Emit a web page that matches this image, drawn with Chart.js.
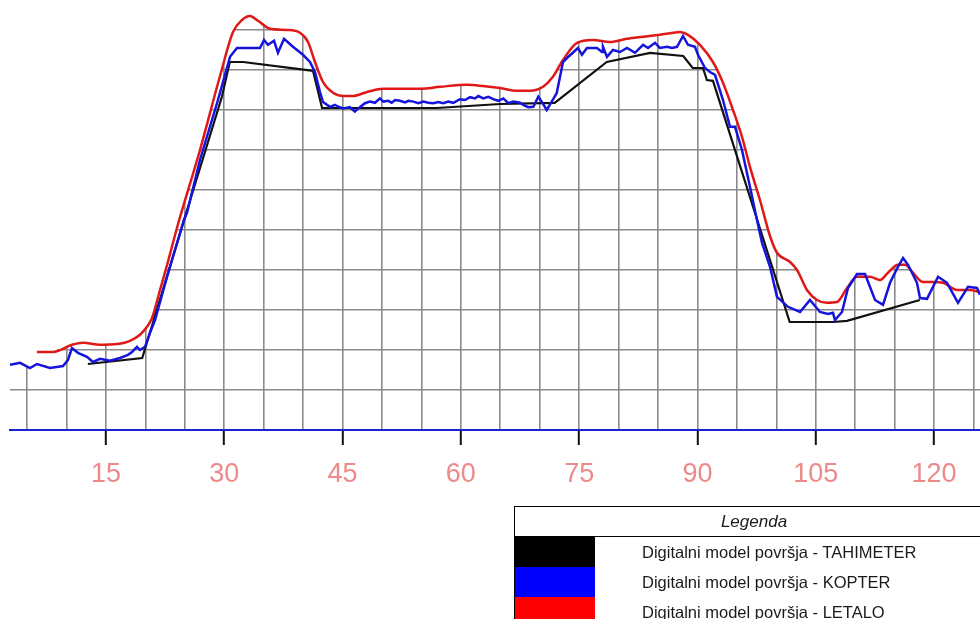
<!DOCTYPE html>
<html>
<head>
<meta charset="utf-8">
<script src="https://cdn.jsdelivr.net/npm/chart.js@4.4.1/dist/chart.umd.min.js"></script>
<style>
  html, body { margin: 0; padding: 0; background: #fff; }
  #wrap { position: relative; width: 980px; height: 619px; overflow: hidden; }
  #legend {
    position: absolute; left: 514px; top: 506px; width: 480px;
    border-collapse: collapse; border: 1px solid #000;
    font-family: "Liberation Sans", Arial, sans-serif; font-size: 16.5px; color: #1a1a1a;
  }
  #legend th { font-weight: normal; font-style: italic; font-size: 17px; height: 29px; line-height: 20px; border-bottom: 1px solid #000; padding: 0; }
  #legend td { height: 30px; line-height: 20px; padding: 0; vertical-align: middle; }
  #legend td.sw { width: 80px; }
  #legend td.txt { padding-left: 47px; }
</style>
</head>
<body>
<div id="wrap">
  <canvas id="chart" width="980" height="619"></canvas>
  <table id="legend"><tr><th colspan="2">Legenda</th></tr></table>
</div>
<script>
// razdalja (m) in višina profila
const tahimeterX = [12.7, 19.6, 24.9, 29.7, 30.7, 32.4, 41.25, 42.4, 56.97, 64.96, 71.9, 78.5, 84.0, 88.2, 89.4, 90.7, 91.2, 91.97, 101.7, 107.2, 108.97, 118.2];
const tahimeterY = [1.65, 1.8, 5.25, 8.33, 9.2, 9.2, 8.98, 8.05, 8.05, 8.15, 8.18, 9.2, 9.43, 9.35, 9.05, 9.05, 8.75, 8.73, 2.7, 2.7, 2.73, 3.25];

const kopterX = [2.83, 4.10, 5.36, 6.25, 7.90, 9.55, 10.18, 10.69, 11.45, 12.59, 13.35, 14.24, 15.51, 16.78, 17.79, 18.30, 18.93, 19.31, 19.95, 20.58,
  21.22, 22.74, 24.89, 25.27, 26.92, 29.20, 30.73, 31.61, 34.53, 35.04, 35.54, 36.31, 36.81, 37.58, 38.71, 39.98, 40.87, 41.50, 42.14, 42.52,
  43.40, 44.04, 44.46, 45.09, 45.93, 46.56, 46.99, 47.84, 48.47, 49.11, 49.74, 50.16, 50.80, 51.23, 51.65, 52.28, 52.92, 53.34, 53.97, 54.61,
  55.24, 55.87, 56.51, 57.14, 57.77, 58.41, 59.04, 59.89, 60.53, 61.16, 61.79, 62.21, 62.85, 63.48, 64.12, 64.75, 65.38, 66.02, 66.65, 67.50,
  67.92, 68.55, 69.19, 69.82, 70.25, 70.89, 71.52, 72.15, 72.95, 73.46, 74.85, 75.36, 75.99, 77.26, 77.90, 78.02, 78.53, 79.29, 80.18,
  81.07, 82.08, 83.10, 83.73, 84.62, 85.25, 86.14, 86.77, 87.41, 88.17, 88.80, 89.69, 90.07, 90.96, 91.59, 92.23, 93.24, 94.13, 94.76, 95.65,
  96.66, 97.55, 98.19, 99.20, 100.09, 101.48, 103.01, 104.27, 105.54, 106.56, 107.19, 107.44, 108.33, 109.09, 110.23, 111.25, 112.52, 113.53, 114.42, 115.43,
  116.07, 116.70, 117.84, 118.22, 119.11, 120.51, 121.65, 123.04, 124.31, 125.45, 125.83, 126.5];
const kopterY = [1.63, 1.68, 1.55, 1.65, 1.55, 1.60, 1.75, 2.05, 1.93, 1.83, 1.70, 1.78, 1.73, 1.80, 1.88, 1.95, 2.08, 2.00, 2.08, 2.43,
  2.75, 3.83, 5.25, 5.43, 6.75, 8.25, 9.33, 9.55, 9.55, 9.75, 9.63, 9.73, 9.43, 9.78, 9.58, 9.38, 9.20, 8.95, 8.45, 8.20,
  8.08, 8.13, 8.08, 8.04, 8.07, 7.96, 8.04, 8.17, 8.21, 8.18, 8.29, 8.21, 8.23, 8.18, 8.25, 8.23, 8.19, 8.23, 8.21, 8.17,
  8.21, 8.18, 8.17, 8.20, 8.17, 8.21, 8.18, 8.27, 8.25, 8.32, 8.29, 8.35, 8.29, 8.33, 8.27, 8.23, 8.29, 8.17, 8.21, 8.18,
  8.13, 8.07, 8.08, 8.33, 8.21, 8.00, 8.21, 8.42, 9.20, 9.30, 9.55, 9.38, 9.55, 9.55, 9.45, 9.58, 9.33, 9.50, 9.45,
  9.55, 9.43, 9.63, 9.55, 9.68, 9.55, 9.58, 9.55, 9.58, 9.85, 9.63, 9.58, 9.38, 9.05, 8.95, 8.88, 8.25, 7.58, 7.58, 7.00,
  6.08, 5.25, 4.68, 4.08, 3.33, 3.08, 2.95, 3.25, 2.95, 2.90, 2.93, 2.75, 2.95, 3.55, 3.90, 3.90, 3.25, 3.13, 3.68, 4.08,
  4.30, 4.13, 3.68, 3.30, 3.28, 3.83, 3.68, 3.18, 3.58, 3.55, 3.38, 3.13];

const letaloX = [6.25, 8.28, 10.69, 12.09, 14.24, 16.40, 18.05, 19.31, 20.20, 20.84, 21.85, 22.74, 24.0, 26.92, 29.46, 31.11, 32.25, 33.26, 34.28, 35.80,
  37.95, 39.60, 40.62, 41.50, 42.52, 43.79, 45.06, 46.32, 48.10, 50.13, 52.28, 54.82, 57.36, 60.78, 62.81, 64.96, 67.12, 68.77, 70.42, 71.68,
  72.95, 74.73, 76.76, 78.91, 81.07, 83.10, 85.25, 86.90, 87.79, 88.80, 90.32, 91.97, 93.24, 94.51, 95.65, 96.66, 97.93, 99.20, 100.09, 101.74,
  102.63, 103.89, 105.16, 106.43, 107.70, 108.97, 110.23, 111.88, 113.15, 114.16, 115.43, 116.32, 117.34, 118.60, 119.87, 121.14, 122.92, 124.56, 125.83];
const letaloY = [1.95, 1.95, 2.13, 2.18, 2.13, 2.15, 2.23, 2.38, 2.58, 2.80, 3.50, 4.12, 5.05, 7.0, 8.85, 9.95, 10.25, 10.35, 10.23, 10.03,
  10.0, 9.93, 9.70, 9.20, 8.70, 8.43, 8.35, 8.35, 8.45, 8.53, 8.53, 8.53, 8.58, 8.63, 8.60, 8.55, 8.48, 8.48, 8.58, 8.83,
  9.25, 9.68, 9.75, 9.70, 9.78, 9.83, 9.88, 9.93, 9.95, 9.88, 9.63, 9.20, 8.68, 8.0, 7.33, 6.58, 5.75, 4.85, 4.43, 4.20,
  4.0, 3.5, 3.25, 3.18, 3.20, 3.55, 3.83, 3.83, 3.75, 3.93, 4.13, 4.13, 3.93, 3.70, 3.70, 3.68, 3.50, 3.50, 3.45];

const labelStep = 15;

function toPoints(xs, ys) {
  return xs.map((x, i) => ({ x: x, y: ys[i] }));
}

// mreža je narisana samo pod profilom - vse nad njim prebarvamo z belo
const gridMask = {
  id: 'gridMask',
  beforeDatasetsDraw(chart) {
    const ctx = chart.ctx;
    const a = chart.chartArea;
    const blue = chart.getDatasetMeta(1).data;
    const red = chart.getDatasetMeta(2).data;
    ctx.save();
    ctx.beginPath();
    ctx.moveTo(a.left - 2, 0);
    ctx.lineTo(a.left - 2, blue[0].y);
    blue.filter(p => p.x < red[0].x).forEach(p => ctx.lineTo(p.x, p.y));
    red.forEach(p => ctx.lineTo(p.x, p.y - 1));
    ctx.lineTo(chart.width, red[red.length - 1].y);
    ctx.lineTo(chart.width, 0);
    ctx.closePath();
    ctx.fillStyle = '#fff';
    ctx.fill();
    ctx.restore();
  }
};

const ctx = document.getElementById('chart').getContext('2d');
const chart = new Chart(ctx, {
  type: 'line',
  data: {
    datasets: [{
      label: 'Digitalni model površja - TAHIMETER',
      data: toPoints(tahimeterX, tahimeterY),
      borderColor: '#111111',
      backgroundColor: '#000000',
      borderWidth: 2.2,
      tension: 0,
      order: 1
    }, {
      label: 'Digitalni model površja - KOPTER',
      data: toPoints(kopterX, kopterY),
      borderColor: '#1414dc',
      backgroundColor: '#0000ff',
      borderWidth: 2.5,
      tension: 0,
      order: 0
    }, {
      label: 'Digitalni model površja - LETALO',
      data: toPoints(letaloX, letaloY),
      borderColor: '#e01818',
      backgroundColor: '#ff0000',
      borderWidth: 2.5,
      cubicInterpolationMode: 'monotone',
      order: 2
    }]
  },
  options: {
    responsive: false,
    animation: false,
    events: [],
    elements: { point: { radius: 0 } },
    layout: { padding: 0 },
    plugins: {
      legend: { display: false },
      tooltip: { enabled: false }
    },
    scales: {
      x: {
        type: 'linear',
        min: 2.83,
        max: 125.83,
        afterFit: s => { s.height = 189; s.paddingLeft = 0; s.paddingRight = 0; },
        border: { color: '#2020d0', width: 2 },
        grid: {
          color: '#8a8a8a',
          lineWidth: 1.6,
          tickLength: 15,
          tickWidth: 2,
          tickColor: c => (Math.round(c.tick.value) % labelStep === 0 ? '#111' : 'rgba(0,0,0,0)')
        },
        ticks: {
          stepSize: 5,
          includeBounds: false,
          autoSkip: false,
          maxRotation: 0,
          padding: 13,
          color: '#ec8a8a',
          font: { family: '"Liberation Sans", Arial, sans-serif', size: 27 },
          callback: v => (Math.round(v) % labelStep === 0 ? String(Math.round(v)) : '')
        }
      },
      y: {
        min: 0,
        max: 10.75,
        afterFit: s => { s.width = 10; },
        border: { display: false },
        grid: {
          color: c => (c.tick.value === 0 ? 'rgba(0,0,0,0)' : '#8a8a8a'),
          lineWidth: 1.6,
          drawTicks: false
        },
        ticks: { stepSize: 1, includeBounds: false, display: false }
      }
    }
  },
  plugins: [gridMask]
});

// legenda kot tabela
const table = document.getElementById('legend');
chart.data.datasets.forEach(ds => {
  const row = document.createElement('tr');
  const sw = document.createElement('td');
  sw.className = 'sw';
  sw.style.background = ds.backgroundColor;
  const txt = document.createElement('td');
  txt.className = 'txt';
  txt.textContent = ds.label;
  row.appendChild(sw);
  row.appendChild(txt);
  table.appendChild(row);
});
</script>
</body>
</html>
